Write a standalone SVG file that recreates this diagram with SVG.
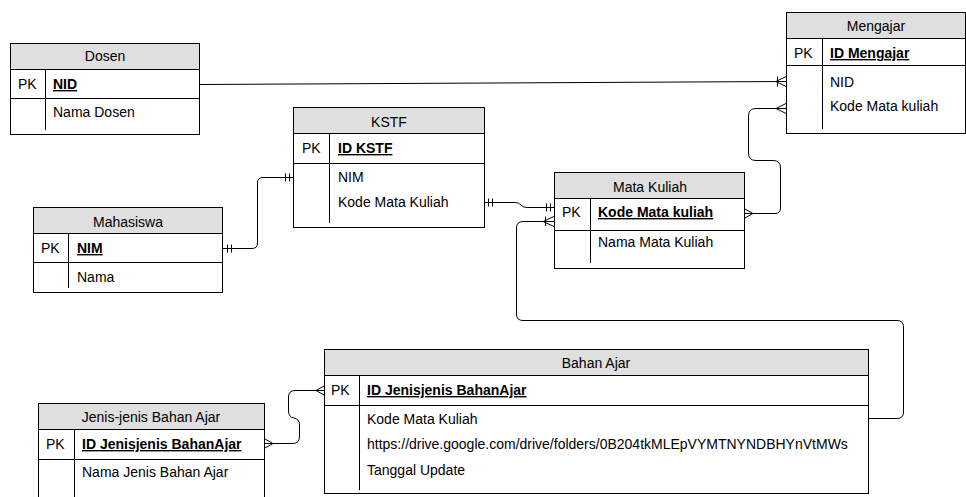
<svg xmlns="http://www.w3.org/2000/svg" width="966" height="497" viewBox="0 0 966 497">
<style>
.box{fill:#fff;stroke:#000;stroke-width:1}
.hdr{fill:#dfdfdf;stroke:#000;stroke-width:1}
.ln{stroke:#000;stroke-width:1;fill:none}
text{font-family:"Liberation Sans",Arial,sans-serif;font-size:14px;fill:#000}
.t{text-anchor:middle}
.k{font-weight:bold;text-decoration:underline}
.c{stroke:#000;stroke-width:1;fill:none}
</style>
<rect width="966" height="497" fill="#fff"/>

<g id="dosen">
<rect class="box" x="10.5" y="43.5" width="189" height="91"/>
<rect class="hdr" x="10.5" y="43.5" width="189" height="26"/>
<line class="ln" x1="10.5" y1="98.5" x2="199.5" y2="98.5"/>
<line class="ln" x1="45.5" y1="69.5" x2="45.5" y2="130"/>
<text class="t" x="105" y="61">Dosen</text>
<text x="18" y="89">PK</text>
<text class="k" x="53" y="89">NID</text>
<text x="53" y="117">Nama Dosen</text>
</g>

<g id="mengajar">
<rect class="box" x="786.5" y="12.5" width="179" height="121"/>
<rect class="hdr" x="786.5" y="12.5" width="179" height="26"/>
<line class="ln" x1="786.5" y1="65.5" x2="965.5" y2="65.5"/>
<line class="ln" x1="822.5" y1="38.5" x2="822.5" y2="129"/>
<text class="t" x="876" y="31">Mengajar</text>
<text x="794" y="58">PK</text>
<text class="k" x="830" y="58">ID Mengajar</text>
<text x="830" y="87">NID</text>
<text x="830" y="111">Kode Mata kuliah</text>
</g>

<g id="kstf">
<rect class="box" x="293.5" y="107.5" width="191" height="120"/>
<rect class="hdr" x="293.5" y="107.5" width="191" height="26"/>
<line class="ln" x1="293.5" y1="163.5" x2="484.5" y2="163.5"/>
<line class="ln" x1="329.5" y1="133.5" x2="329.5" y2="223"/>
<text class="t" x="389" y="127">KSTF</text>
<text x="302" y="153">PK</text>
<text class="k" x="338" y="153">ID KSTF</text>
<text x="338" y="182">NIM</text>
<text x="338" y="207">Kode Mata Kuliah</text>
</g>

<g id="mata-kuliah">
<rect class="box" x="554.5" y="172.5" width="190" height="96"/>
<rect class="hdr" x="554.5" y="172.5" width="190" height="26"/>
<line class="ln" x1="554.5" y1="230.5" x2="744.5" y2="230.5"/>
<line class="ln" x1="590.5" y1="198.5" x2="590.5" y2="263"/>
<text class="t" x="650" y="192">Mata Kuliah</text>
<text x="562" y="217">PK</text>
<text class="k" x="598" y="217">Kode Mata kuliah</text>
<text x="598" y="247">Nama Mata Kuliah</text>
</g>

<g id="mahasiswa">
<rect class="box" x="33.5" y="207.5" width="189" height="85"/>
<rect class="hdr" x="33.5" y="207.5" width="189" height="26"/>
<line class="ln" x1="33.5" y1="262.5" x2="222.5" y2="262.5"/>
<line class="ln" x1="68.5" y1="233.5" x2="68.5" y2="288"/>
<text class="t" x="128" y="227">Mahasiswa</text>
<text x="41" y="253">PK</text>
<text class="k" x="77" y="253">NIM</text>
<text x="77" y="282">Nama</text>
</g>

<g id="bahan-ajar">
<rect class="box" x="324.5" y="349.5" width="544" height="144"/>
<rect class="hdr" x="324.5" y="349.5" width="544" height="26"/>
<line class="ln" x1="324.5" y1="405.5" x2="868.5" y2="405.5"/>
<line class="ln" x1="359.5" y1="375.5" x2="359.5" y2="490"/>
<text class="t" x="596" y="368">Bahan Ajar</text>
<text x="331" y="395">PK</text>
<text class="k" x="367" y="395">ID Jenisjenis BahanAjar</text>
<text x="367" y="424">Kode Mata Kuliah</text>
<text x="367" y="449">https://drive.google.com/drive/folders/0B204tkMLEpVYMTNYNDBHYnVtMWs</text>
<text x="367" y="475">Tanggal Update</text>
</g>

<g id="jenis-jenis-bahan-ajar">
<rect class="box" x="38.5" y="403.5" width="226" height="100"/>
<rect class="hdr" x="38.5" y="403.5" width="226" height="26"/>
<line class="ln" x1="38.5" y1="459.5" x2="264.5" y2="459.5"/>
<line class="ln" x1="74.5" y1="429.5" x2="74.5" y2="500"/>
<text class="t" x="151" y="422">Jenis-jenis Bahan Ajar</text>
<text x="46" y="449">PK</text>
<text class="k" x="82" y="449">ID Jenisjenis BahanAjar</text>
<text x="82" y="477">Nama Jenis Bahan Ajar</text>
</g>

<g id="connectors">
<!-- Dosen - Mengajar -->
<path class="c" d="M199.5,84.5 L786,81.5"/>
<path class="c" d="M777.5,76.5 L777.5,86.5 M776,81.5 L786,76.5 M776,81.5 L786,86.5"/>
<!-- Mata Kuliah - Mengajar -->
<path class="c" d="M745,213.5 L775,213.5 Q780.5,213.5 780.5,208 L780.5,168 Q780.5,160.5 773,160.5 L756,160.5 Q748.5,160.5 748.5,153 L748.5,116 Q748.5,108.5 756,108.5 L786,108.5"/>
<path class="c" d="M745,209 L753,213.5 L745,218"/>
<path class="c" d="M786,103.5 L776,108.5 L786,113.5"/>
<!-- KSTF - Mata Kuliah -->
<path class="c" d="M485,202.5 L515,202.5 Q519,202.5 521,205 Q523,207.5 527,207.5 L554,207.5"/>
<path class="c" d="M488.5,198.5 L488.5,206.5 M492.5,198.5 L492.5,206.5"/>
<path class="c" d="M546.5,203.5 L546.5,211.5 M550.5,203.5 L550.5,211.5"/>
<!-- Mahasiswa - KSTF -->
<path class="c" d="M222.5,248.5 L252,248.5 Q257.5,248.5 257.5,243 L257.5,183 Q257.5,177.5 263,177.5 L293,177.5"/>
<path class="c" d="M227.5,244.5 L227.5,252.5 M231.5,244.5 L231.5,252.5"/>
<path class="c" d="M285.5,173.5 L285.5,181.5 M289.5,173.5 L289.5,181.5"/>
<!-- Bahan Ajar - Mata Kuliah -->
<path class="c" d="M868.5,418.5 L897,418.5 Q903.5,418.5 903.5,412 L903.5,327 Q903.5,320.5 897,320.5 L523,320.5 Q516.5,320.5 516.5,314 L516.5,228 Q516.5,221.5 523,221.5 L554,221.5"/>
<path class="c" d="M545.5,216.5 L545.5,226 M543,221.5 L554,216.5 M543,221.5 L554,226.5"/>
<!-- Jenis-jenis - Bahan Ajar -->
<path class="c" d="M324,390.5 L295,390.5 Q288.5,390.5 288.5,397 L288.5,411 Q288.5,417 294,418 Q299.5,419 299.5,425 L299.5,436 Q299.5,443.5 293,443.5 L265,443.5"/>
<path class="c" d="M324,386 L316,390.5 L324,395"/>
<path class="c" d="M265,439 L273,443.5 L265,448"/>
</g>
</svg>
